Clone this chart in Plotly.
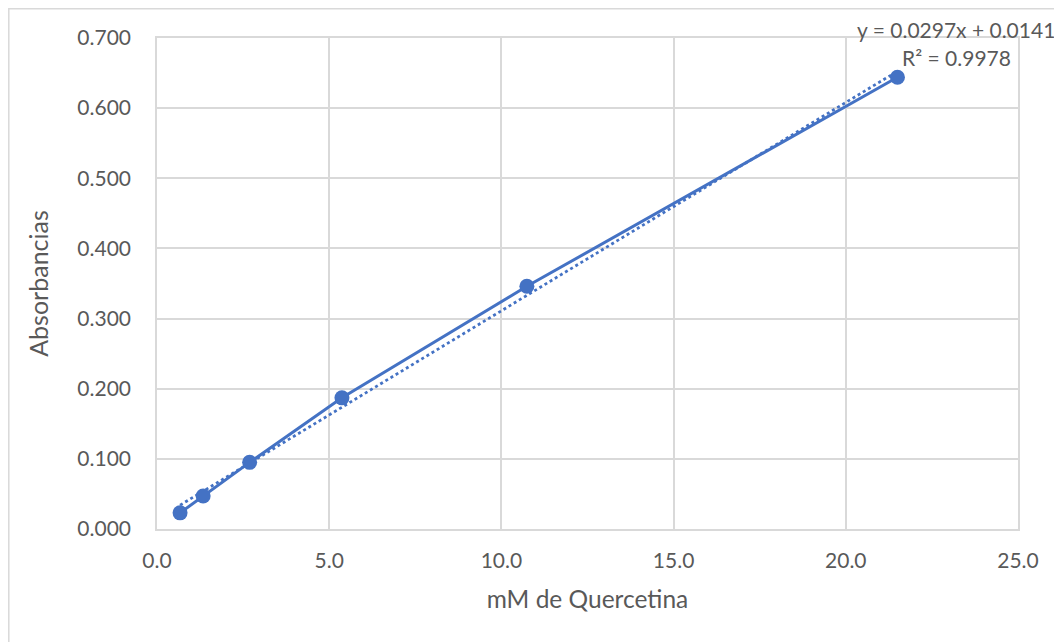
import plotly.graph_objects as go

concentracion = [0.67, 1.34, 2.69, 5.37, 10.74, 21.5]
absorbancia = [0.023, 0.047, 0.095, 0.187, 0.346, 0.644]
pendiente = 0.0297
intercepto = 0.0141
ecuacion = "y = 0.0297x + 0.0141"
r2_texto = "R² = 0.9978"

color = "#4472C4"
gris = "#595959"
font = "Lato"

x_tr = [min(concentracion), max(concentracion)]
y_tr = [pendiente * v + intercepto for v in x_tr]

fig = go.Figure()
fig.add_trace(go.Scatter(x=x_tr, y=y_tr, mode="lines",
                         line=dict(color=color, width=2.75, dash="dot"),
                         showlegend=False, hoverinfo="skip"))
fig.add_trace(go.Scatter(x=concentracion, y=absorbancia, mode="lines+markers",
                         line=dict(color=color, width=3),
                         marker=dict(color=color, size=15),
                         showlegend=False))

OFF = 8  # page offset of the figure inside the browser window
W, H = 1062 - OFF, 642 - OFF
L_px, R_px, T_px, B_px = 157, 1018, 38, 529  # plot area in window pixels
l, r, t, b = L_px - OFF, 1062 - R_px, T_px - OFF, 642 - B_px
pw, ph = R_px - L_px, B_px - T_px

def px(xp):
    return (xp - L_px) / pw

def py(yp):
    return 1 - (yp - T_px) / ph

fig.add_shape(type="rect", xref="paper", yref="paper",
              x0=px(8.8), x1=px(1075), y0=py(660), y1=py(8.8),
              line=dict(color="#d9d9d9", width=1.5), fillcolor="rgba(0,0,0,0)", layer="below")

fig.add_annotation(xref="paper", yref="paper", x=px(1057), y=py(30),
                   text=ecuacion, showarrow=False, xanchor="right", yanchor="middle",
                   font=dict(family=font, size=21, color=gris))
fig.add_annotation(xref="paper", yref="paper", x=px(1013), y=py(58),
                   text=r2_texto, showarrow=False, xanchor="right", yanchor="middle",
                   font=dict(family=font, size=21, color=gris))

fig.update_layout(
    width=W, height=H,
    margin=dict(l=l, r=r, t=t, b=b),
    paper_bgcolor="white", plot_bgcolor="white",
    font=dict(family=font, size=21, color=gris),
    xaxis=dict(range=[0, 25], dtick=5, tickformat=".1f",
               showgrid=True, gridcolor="#d9d9d9", gridwidth=1.5,
               showline=True, linecolor="#d9d9d9", linewidth=1.5, mirror=True,
               zeroline=False, ticks="", ticklabelstandoff=12,
               title=dict(text="mM de Quercetina", standoff=20, font=dict(size=24.5))),
    yaxis=dict(range=[0, 0.7], dtick=0.1, tickformat=".3f",
               showgrid=True, gridcolor="#d9d9d9", gridwidth=1.5,
               showline=True, linecolor="#d9d9d9", linewidth=1.5, mirror=True,
               zeroline=False, ticks="", ticklabelstandoff=20,
               title=dict(text="Absorbancias", standoff=22, font=dict(size=25))),
)

fig.write_html("out.html")
